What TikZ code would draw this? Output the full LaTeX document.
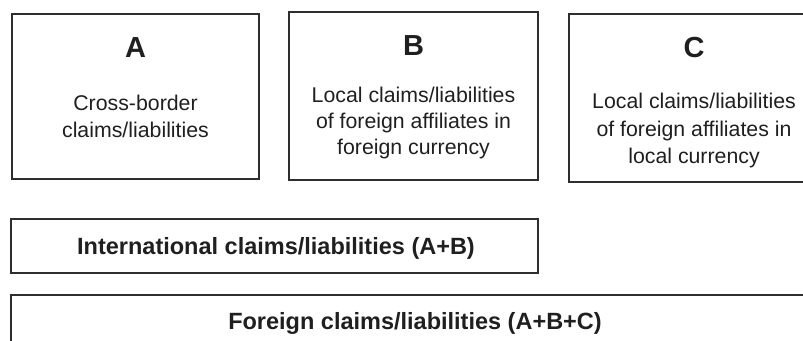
\documentclass[tikz,border=0pt]{standalone}
\usepackage{fontspec}
\setmainfont{Liberation Sans}
\begin{document}
\begin{tikzpicture}[x=1pt,y=-1pt,
  box/.style={draw=black!82, line width=1.6pt, inner sep=0pt, outer sep=0pt, anchor=north west},
  letter/.style={anchor=base, inner sep=0pt, text=black!88, font=\fontsize{29}{32}\selectfont\bfseries},
  body/.style={anchor=base, inner sep=0pt, text=black!88, font=\fontsize{21.3}{26}\selectfont},
  total/.style={anchor=base, inner sep=0pt, text=black!88, font=\fontsize{23.5}{28}\selectfont\bfseries}]
\useasboundingbox (0,0) rectangle (803,340);
\clip (0,0) rectangle (803,340);
% top boxes
\node[box, minimum width=247pt, minimum height=165pt] (boxA) at (12,14) {};
\node[box, minimum width=249pt, minimum height=168pt] (boxB) at (289,12) {};
\node[box, minimum width=250pt, minimum height=168pt] (boxC) at (569,14) {};
% bottom boxes
\node[box, minimum width=527pt, minimum height=54pt] (boxI) at (11,219) {};
\node[box, minimum width=808pt, minimum height=70pt] (boxF) at (11,295) {};
% box A
\node[letter] (tA) at (135.5,57) {A};
\node[body] (a1) at (135.5,110) {Cross-border};
\node[body] (a2) at (135.5,137) {claims/liabilities};
% box B
\node[letter] (tB) at (413.5,55) {B};
\node[body] (b1) at (413.5,102) {Local claims/liabilities};
\node[body] (b2) at (413.5,128) {of foreign affiliates in};
\node[body] (b3) at (413.5,154) {foreign currency};
% box C
\node[letter] (tC) at (694,57) {C};
\node[body] (c1) at (694,108) {Local claims/liabilities};
\node[body] (c2) at (694,136) {of foreign affiliates in};
\node[body] (c3) at (694,163) {local currency};
% totals
\node[total] (tI) at (276,254) {International claims/liabilities (A+B)};
\node[total] (tF) at (415,329) {Foreign claims/liabilities (A+B+C)};
\end{tikzpicture}
\end{document}
